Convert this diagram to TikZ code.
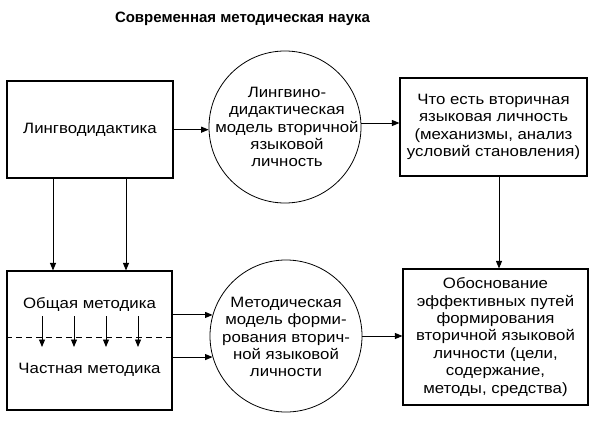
\documentclass[tikz,border=0pt]{standalone}
\usepackage{fontspec}
\setmainfont{Liberation Sans}
\newfontfamily\bodyfont[FakeStretch=1.12]{Liberation Sans}
\usetikzlibrary{arrows.meta,calc}
\begin{document}
\begin{tikzpicture}[x=1pt,y=-1pt,
  every node/.style={font=\bodyfont\fontsize{15}{17.4}\selectfont, align=center, inner sep=0pt},
  box/.style={draw, line width=1.1pt},
  circ/.style={draw, circle, line width=0.8pt, minimum size=152pt},
  arr/.style={line width=0.9pt, -{Triangle[length=7.5pt,width=6pt]}},
  dash line/.style={line width=1pt, dash pattern=on 6pt off 4pt}]
\useasboundingbox (0,0) rectangle (609,428);
\node[font=\fontsize{15}{18}\selectfont\bfseries] (title) at (242.5,19) {Современная методическая наука};
% boxes
\node[box, minimum width=166pt, minimum height=97pt] (b1) at (90,129.5) {Лингводидактика};
\node[box, minimum width=187pt, minimum height=98pt] (b3) at (493.5,127) {Что есть вторичная\\языковая личность\\(механизмы, анализ\\условий становления)};
\node[box, minimum width=165pt, minimum height=139pt] (b2) at (89.5,340.5) {};
\node[box, minimum width=185pt, minimum height=136pt] (b4) at (495.5,337) {Обоснование\\эффективных путей\\формирования\\вторичной языковой\\личности (цели,\\содержание,\\методы, средства)};
% circles
\node[circ] (c1) at (285,127) {};
\node (c1t) at (287,127) {Лингвино-\\дидактическая\\модель вторичной\\языковой\\личность};
\node[circ] (c2) at (286,336) {};
\node (c2t) at (286,337) {Методическая\\модель форми-\\рования вторич-\\ной языковой\\личности};
% texts in b2
\node (gen) at (89.5,304) {Общая методика};
\node (part) at (89.5,370) {Частная методика};
\coordinate (dl) at (b2.west |- 0,337);
\coordinate (dr) at (b2.east |- 0,337);
\draw[dash line] (dl) -- (dr);
\foreach \x in {42,74,106,138}{
  \coordinate (s\x) at (\x,316);
  \coordinate (e\x) at (\x,347);
  \draw[arr] (s\x) -- (e\x);
}
% connectors
\draw[arr] (b1.east |- c1.182) -- (c1.182);
\draw[arr] (c1.3) -- (b3.west |- c1.3);
\draw[arr] ([xshift=-37pt]b1.south) -- ([xshift=-36.5pt]b2.north);
\draw[arr] ([xshift=36pt]b1.south) -- ([xshift=36.5pt]b2.north);
\draw[arr] ([xshift=5.5pt]b3.south) -- ([xshift=3.5pt]b4.north);
\draw[arr] (b2.east |- c2.164) -- (c2.164);
\draw[arr] (b2.east |- c2.196) -- (c2.196);
\draw[arr] (c2.east) -- (b4.west |- c2.east);
\end{tikzpicture}
\end{document}
